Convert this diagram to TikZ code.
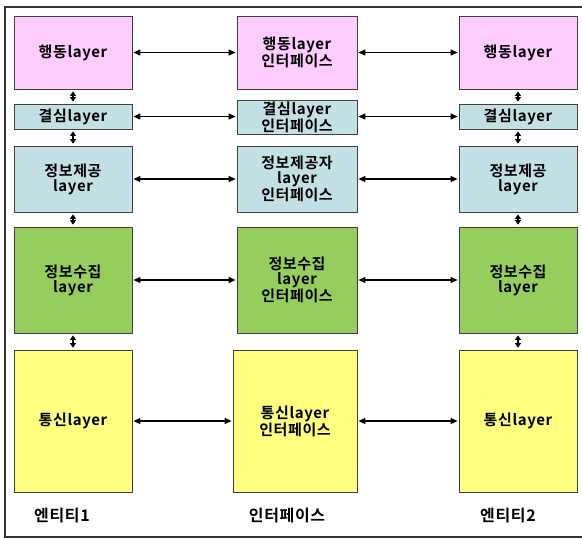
\documentclass[tikz,border=0pt]{standalone}
\usepackage{fontspec}
\setmainfont{Noto Sans CJK KR Bold}[LetterSpace=4]
\usepackage{tikz}
\usetikzlibrary{arrows.meta, positioning}

\definecolor{actpink}{RGB}{255,204,255}
\definecolor{decblue}{RGB}{195,225,228}
\definecolor{colgreen}{RGB}{150,206,94}
\definecolor{comyellow}{RGB}{255,255,128}

\begin{document}
\begin{tikzpicture} [x=1pt, y=-1pt]
		    \tikzstyle{every path}=[thick]
		    \tikzstyle{layerbox}=[draw=black!75, line width=0.8pt, align=center, inner sep=0pt,
		    font=\fontsize{15}{15}\selectfont]
		    \tikzstyle{link}=[{Triangle[length=7pt,width=6pt]}-{Triangle[length=7pt,width=6pt]}, line width=1.2pt]
		    \tikzstyle{stack}=[{Triangle[length=4.5pt,width=6pt]}-{Triangle[length=4.5pt,width=6pt]}, line width=2pt]
		    \tikzstyle{title}=[font=\fontsize{16}{16}\selectfont]
		    \useasboundingbox (0,0) rectangle (582,539);
		    % frame
		    \draw [line width=2.4pt, black!80] (582,7) -- (5,7) -- (5,537) -- (582,537);
		    % entity 1
		    \node [layerbox,fill=actpink,minimum width=118pt,minimum height=73pt] (ea1) at (73,52.5) {행동layer};
		    \node [layerbox,fill=decblue,minimum width=118pt,minimum height=25pt] (ed1) at (73,116.5) {결심layer};
		    \node [layerbox,fill=decblue,minimum width=118pt,minimum height=66pt] (ep1) at (73,179) {정보제공\\layer};
		    \node [layerbox,fill=colgreen,minimum width=118pt,minimum height=106pt] (eg1) at (73,280) {정보수집\\layer};
		    \node [layerbox,fill=comyellow,minimum width=118pt,minimum height=142pt] (ec1) at (73,421) {통신layer};
		    % interface
		    \node [layerbox,fill=actpink,minimum width=120pt,minimum height=73pt] (ia) at (297,52.5) {행동layer\\인터페이스};
		    \node [layerbox,fill=decblue,minimum width=120pt,minimum height=34pt] (id) at (297,117) {결심layer\\인터페이스};
		    \node [layerbox,fill=decblue,minimum width=120pt,minimum height=66pt] (ip) at (297,179) {정보제공자\\layer\\인터페이스};
		    \node [layerbox,fill=colgreen,minimum width=120pt,minimum height=106pt] (ig) at (297,280) {정보수집\\layer\\인터페이스};
		    \node [layerbox,fill=comyellow,minimum width=124pt,minimum height=142pt] (ic) at (295,421) {통신layer\\인터페이스};
		    % entity 2
		    \node [layerbox,fill=actpink,minimum width=118pt,minimum height=73pt] (ea2) at (518,52.5) {행동layer};
		    \node [layerbox,fill=decblue,minimum width=118pt,minimum height=25pt] (ed2) at (518,116.5) {결심layer};
		    \node [layerbox,fill=decblue,minimum width=118pt,minimum height=66pt] (ep2) at (518,179) {정보제공\\layer};
		    \node [layerbox,fill=colgreen,minimum width=118pt,minimum height=106pt] (eg2) at (518,280) {정보수집\\layer};
		    \node [layerbox,fill=comyellow,minimum width=118pt,minimum height=142pt] (ec2) at (518,421) {통신layer};
		    % titles
		    \node [title] (t1) at (62,516) {엔티티1};
		    \node [title] (ti) at (287,516) {인터페이스};
		    \node [title] (t2) at (508,516) {엔티티2};
		    % horizontal links
		    \foreach \l/\m/\r in {ea1/ia/ea2, ed1/id/ed2, ep1/ip/ep2, eg1/ig/eg2, ec1/ic/ec2} {
		        \draw [link] ([xshift=1pt]\l.east) -- ([xshift=-1pt]\l.east -| \m.west);
		        \draw [link] ([xshift=1pt]\m.east |- \r.west) -- ([xshift=-1pt]\r.west);
		    }
		    % vertical links
		    \foreach \a/\b in {ea1/ed1, ed1/ep1, ep1/eg1, eg1/ec1, ea2/ed2, ed2/ep2, ep2/eg2, eg2/ec2} {
		        \draw [stack] ([yshift=-2pt]\a.south) -- ([yshift=2pt]\b.north);
		    }
	\end{tikzpicture}
\end{document}
